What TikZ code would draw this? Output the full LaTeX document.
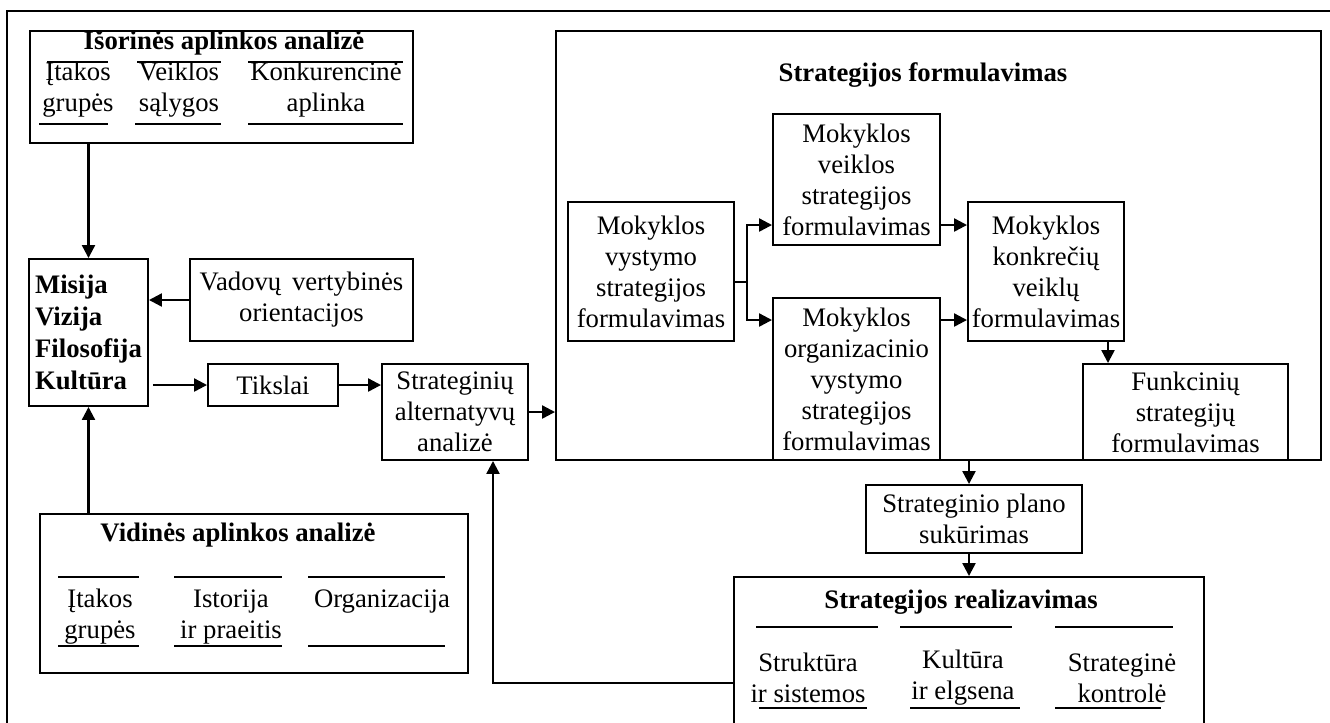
\documentclass[tikz,border=0pt]{standalone}
\usepackage{fontspec}
\setmainfont{Liberation Serif}
\usetikzlibrary{arrows.meta}
\tikzstyle{box} = [rectangle, draw, line width=1.1pt, inner sep=1pt, align=center, font=\fontsize{15.2}{17.6}\selectfont]
\tikzstyle{title} = [inner sep=1pt, font=\fontsize{15.2}{17.6}\selectfont\bfseries]
\tikzstyle{item} = [inner sep=1pt, align=center, font=\fontsize{15.2}{17.6}\selectfont]
\tikzstyle{itemline} = [line width=1pt]
\tikzstyle{arrow} = [line width=1.3pt, -{Triangle[length=2.6mm, width=2.6mm]}]

\begin{document}
\begin{tikzpicture}[x=0.2mm, y=-0.2mm]
\clip (0,0) rectangle (1330,722);
\draw [line width=0.9pt] (7,11) rectangle (1345,745);

\node (isor)   [box, minimum width=76.6mm, minimum height=22.4mm] at (221.5,87) {};
\node (isortitle) [title] at (224,43) {Išorinės aplinkos analizė};
\node (isor1)  [item] at (78,90) {Įtakos\\grupės};
\node (isor2)  [item] at (179,90) {Veiklos\\sąlygos};
\node (isor3)  [item] at (326,90) {Konkurencinė\\aplinka};
\foreach \a/\b in {47/108, 137/221, 248/403} \draw [itemline] (\a,62) -- (\b,62);
\foreach \a/\b in {39/108, 135/221, 248/403} \draw [itemline] (\a,124) -- (\b,124);

\node (misija) [box, minimum width=23.8mm, minimum height=29.4mm, align=left, font=\fontsize{15.2}{18.2}\selectfont\bfseries] at (88.5,332.5) {Misija\\Vizija\\Filosofija\\Kultūra};
\node (vadov)  [box, minimum width=44.6mm, minimum height=16.4mm] at (301.5,300) {Vadovų\hspace{0.4em}vertybinės\\orientacijos};
\node (tiksl)  [box, minimum width=26mm, minimum height=8.4mm] at (273,385) {Tikslai};
\node (altern) [box, minimum width=29.2mm, minimum height=19.2mm] at (455,412) {Strateginių\\alternatyvų\\analizė};

\node (vidin)  [box, minimum width=85.6mm, minimum height=31.8mm] at (254,593.5) {};
\node (vidintitle) [title] at (238,535) {Vidinės aplinkos analizė};
\node (vidin1) [item] at (100,617) {Įtakos\\grupės};
\node (vidin2) [item] at (231,617) {Istorija\\ir praeitis};
\node (vidin3) [item] at (382,602) {Organizacija};
\foreach \a/\b in {58/139, 174/282, 308/445} {
  \draw [itemline] (\a,577) -- (\b,577);
  \draw [itemline] (\a,646) -- (\b,646);
}

\node (formul) [box, minimum width=153mm, minimum height=85.8mm] at (938.5,245.5) {};
\node (formultitle) [title] at (923,75) {Strategijos formulavimas};
\node (vyst)   [box, minimum width=33.2mm, minimum height=27.8mm] at (651,271.5) {Mokyklos\\vystymo\\strategijos\\formulavimas};
\node (veik)   [box, minimum width=33.4mm, minimum height=26.2mm] at (856.5,179.5) {Mokyklos\\veiklos\\strategijos\\formulavimas};
\node (konk)   [box, minimum width=31.2mm, minimum height=27.8mm] at (1046,271.5) {Mokyklos\\konkrečių\\veiklų\\formulavimas};
\node (organ)  [box, minimum width=33.4mm, minimum height=32.4mm] at (856.5,379) {Mokyklos\\organizacinio\\vystymo\\strategijos\\formulavimas};
\node (funk)   [box, minimum width=41mm, minimum height=19.2mm] at (1185.5,412) {Funkcinių\\strategijų\\formulavimas};

\node (plan)   [box, minimum width=43.2mm, minimum height=13.6mm] at (974,519) {Strateginio plano\\sukūrimas};
\node (realiz) [box, minimum width=94mm, minimum height=32.6mm] at (969,658.5) {};
\node (realiztitle) [title] at (961,602) {Strategijos realizavimas};
\node (realiz1) [item] at (808,678) {Struktūra\\ir sistemos};
\node (realiz2) [item] at (963,678) {Kultūra\\ir elgsena};
\node (realiz3) [item] at (1122,678) {Strateginė\\kontrolė};
\foreach \a/\b in {756/878, 900/1012, 1055/1173} \draw [itemline] (\a,627) -- (\b,627);
\foreach \a/\b in {759/867, 910/1020, 1055/1161} \draw [itemline] (\a,708) -- (\b,708);

\coordinate (back) at (493,683);
\coordinate (split) at (747,282);

\draw [arrow] (isor.south -| misija.north) -- (misija.north);
\draw [arrow] (vadov.west) -- (vadov.west -| misija.east);
\draw [arrow, shorten <=0.8mm] (tiksl.west -| misija.east) -- (tiksl.west);
\draw [arrow] (tiksl.east) -- (tiksl.east -| altern.west);
\draw [arrow] (altern.east) -- (altern.east -| formul.west);
\draw [arrow] (vidin.north -| misija.south) -- (misija.south);
\draw [arrow] (realiz.west |- back) -- (back) -- (altern.south -| back);
\draw [line width=1.3pt] (vyst.east |- split) -- (split);
\draw [arrow] (split) |- (veik.west |- 0,225);
\draw [arrow] (split) |- (organ.west |- 0,320);
\draw [arrow] (veik.east |- 0,225) -- (konk.west |- 0,225);
\draw [arrow] (organ.east |- 0,320) -- (konk.west |- 0,320);
\draw [arrow] (konk.south -| 1108,0) -- (funk.north -| 1108,0);
\draw [arrow] (formul.south -| realiz.north) -- (plan.north -| realiz.north);
\draw [arrow] (plan.south -| realiz.north) -- (realiz.north);
\end{tikzpicture}
\end{document}
